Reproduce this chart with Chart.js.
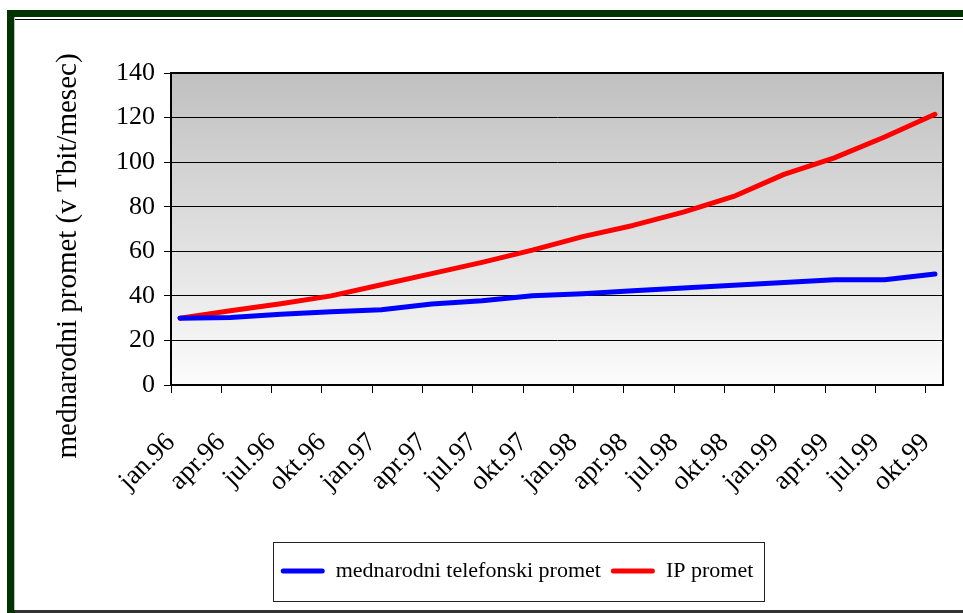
<!DOCTYPE html>
<html>
<head>
<meta charset="utf-8">
<script src="https://cdn.jsdelivr.net/npm/chart.js@4.4.0/dist/chart.umd.min.js"></script>
<style>
    body { margin: 0; width: 963px; height: 613px; background: #fff; overflow: hidden; position: relative; }
    .frame { position: absolute; left: 7px; top: 10px; width: 1000px; height: 640px; background: #013300; }
    .inner { position: absolute; left: 14px; top: 17px; width: 1000px; height: 593px; background: #fff; border-left: 1px solid #b8c0b8; }
    .inner-line { position: absolute; left: 15px; top: 19px; width: 1000px; height: 1px; background: #000; }
    .bottom-line { position: absolute; left: 15px; top: 610px; width: 1000px; height: 3px; background: #333; }
    #chart { position: absolute; left: 16px; top: 20px; }
</style>
</head>
<body>
<div class="frame"></div>
<div class="inner"></div>
<div class="inner-line"></div>
<div class="bottom-line"></div>
<canvas id="chart" width="947" height="590"></canvas>
<script>
// Data
const categories = ['jan.96', 'apr.96', 'jul.96', 'okt.96', 'jan.97', 'apr.97', 'jul.97', 'okt.97',
    'jan.98', 'apr.98', 'jul.98', 'okt.98', 'jan.99', 'apr.99', 'jul.99', 'okt.99'];
const telefonskiPromet = [30, 30.3, 31.8, 32.9, 33.8, 36.3, 37.8, 40, 41, 42.3, 43.5, 44.8, 46, 47.2, 47.2, 49.8];
const ipPromet = [30, 33.3, 36.5, 40, 45, 50, 55, 60.5, 66.6, 71.6, 77.6, 84.6, 94.5, 101.9, 111.3, 121.5];
const yTicks = [0, 20, 40, 60, 80, 100, 120, 140];
const yTitle = 'mednarodni promet (v Tbit/mesec)';

const serif = '"Liberation Serif", "Times New Roman", serif';
const tickShift = 0.18;      // excel puts the tick marks a little left of the points
const legendCenterX = 501;
const legendFontSize = 22;

function toPoints(values) {
    return values.map((v, i) => ({ x: i, y: v }));
}

// Gray gradient plot background, plot frame, y title and legend box
const plotDecor = {
    id: 'plotDecor',
    afterLayout(chart) {
        const legend = chart.legend;
        const dx = legendCenterX - (legend.left + legend.right) / 2;
        legend.left += dx;
        legend.right += dx;
    },
    beforeDraw(chart) {
        const { ctx, chartArea: a } = chart;
        const grad = ctx.createLinearGradient(0, a.top, 0, a.bottom);
        grad.addColorStop(0, '#c0c0c0');
        grad.addColorStop(1, '#fcfcfc');
        ctx.save();
        ctx.fillStyle = grad;
        ctx.fillRect(a.left, a.top, a.right - a.left, a.bottom - a.top);
        ctx.restore();
    },
    afterDraw(chart) {
        const { ctx, chartArea: a, legend } = chart;
        ctx.save();
        ctx.strokeStyle = '#000';
        ctx.lineWidth = 2;
        ctx.strokeRect(a.left, a.top, a.right - a.left, a.bottom - a.top);

        // y axis title, sits lower than the plot middle in the original
        ctx.fillStyle = '#000';
        ctx.font = '29px ' + serif;
        ctx.textAlign = 'center';
        ctx.textBaseline = 'middle';
        ctx.translate(52, 236);
        ctx.rotate(-Math.PI / 2);
        ctx.fillText(yTitle, 0, 0);
        ctx.setTransform(1, 0, 0, 1, 0, 0);

        // box around the legend
        const pad = legend.options.labels.padding;
        const rowW = legend.lineWidths[0] - pad;
        const cx = (legend.left + legend.right) / 2;
        const cy = legend.top + pad + legendFontSize / 2;
        ctx.lineWidth = 1;
        ctx.strokeStyle = '#222';
        ctx.strokeRect(Math.round(cx - rowW / 2 - 8) + 0.5, Math.round(cy - 29) + 0.5, Math.round(rowW + 18), 59);
        ctx.restore();
    }
};

new Chart(document.getElementById('chart'), {
    type: 'line',
    data: {
        datasets: [{
            label: 'mednarodni telefonski promet',
            data: toPoints(telefonskiPromet),
            borderColor: '#0000ff',
            backgroundColor: '#0000ff',
            borderWidth: 5,
            pointRadius: 0,
            tension: 0,
            borderCapStyle: 'round',
            borderJoinStyle: 'round'
        }, {
            label: 'IP promet',
            data: toPoints(ipPromet),
            borderColor: '#ff0000',
            backgroundColor: '#ff0000',
            borderWidth: 5,
            pointRadius: 0,
            tension: 0,
            borderCapStyle: 'round',
            borderJoinStyle: 'round'
        }]
    },
    options: {
        responsive: false,
        animation: false,
        devicePixelRatio: 1,
        layout: { padding: { top: 53, right: 20, bottom: 18, left: 0 } },
        plugins: {
            tooltip: { enabled: false },
            legend: {
                position: 'bottom',
                labels: {
                    color: '#000',
                    font: { family: serif, size: legendFontSize },
                    boxWidth: 44,
                    boxHeight: 5,
                    padding: 10,
                    useBorderRadius: true,
                    borderRadius: 2.5,
                    generateLabels(chart) {
                        const items = Chart.defaults.plugins.legend.labels.generateLabels(chart);
                        items.forEach(item => { item.lineWidth = 0; });
                        return items;
                    }
                }
            }
        },
        scales: {
            x: {
                type: 'linear',
                min: -tickShift,
                max: 15.16,
                afterBuildTicks(scale) {
                    scale.ticks = categories.map((c, i) => ({ value: i - tickShift }));
                },
                afterFit(scale) {
                    scale.height = 165;
                    // rotated labels hang to the left, no need for room on the right
                    scale.paddingRight = 0;
                },
                grid: { drawOnChartArea: false, color: '#000', tickLength: 8 },
                border: { color: '#000', width: 2 },
                ticks: {
                    autoSkip: false,
                    minRotation: 45,
                    maxRotation: 45,
                    padding: 34,
                    color: '#000',
                    font: { family: serif, size: 27 },
                    callback: (value, index) => categories[index]
                }
            },
            y: {
                min: 0,
                max: 140,
                afterBuildTicks(scale) {
                    scale.ticks = yTicks.map(v => ({ value: v }));
                },
                afterFit(scale) { scale.width = 155; },
                grid: { color: '#000', lineWidth: 1, tickLength: 7 },
                border: { color: '#000', width: 2 },
                ticks: {
                    padding: 9,
                    color: '#000',
                    font: { family: serif, size: 26 }
                }
            }
        }
    },
    plugins: [plotDecor]
});
</script>
</body>
</html>
